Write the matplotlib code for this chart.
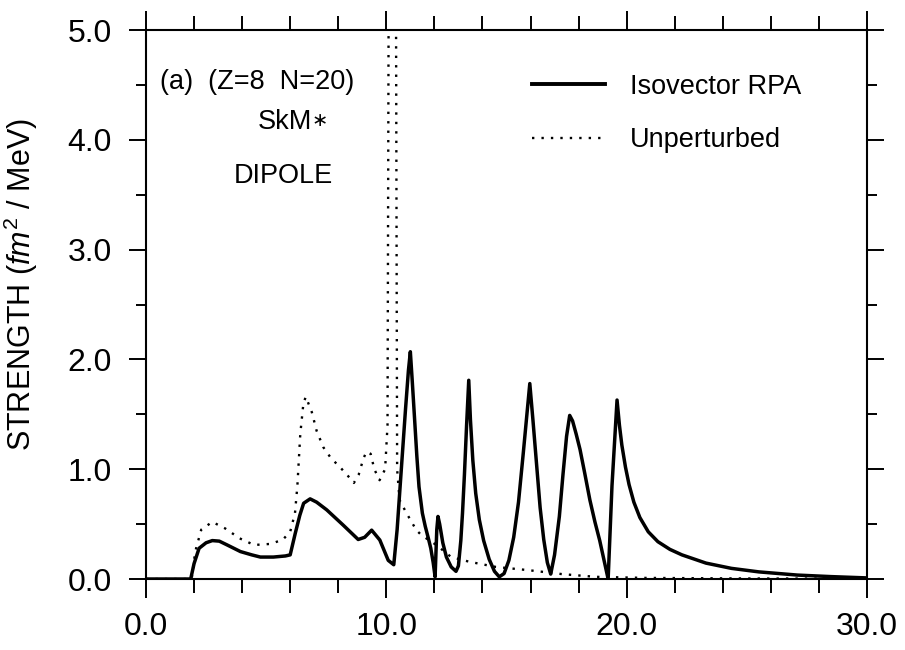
import matplotlib
matplotlib.use("Agg")
import matplotlib.pyplot as plt
from matplotlib.ticker import MultipleLocator, FormatStrFormatter
from matplotlib.lines import Line2D

plt.rcParams['font.family'] = ['Liberation Sans', 'DejaVu Sans']
plt.rcParams['mathtext.fontset'] = 'custom'
plt.rcParams['mathtext.rm'] = 'Liberation Sans'
plt.rcParams['mathtext.it'] = 'Liberation Sans:italic'

# Isovector RPA strength (solid)
x_rpa = [0.0, 1.86, 2.0, 2.21, 2.5, 2.76, 3.05, 3.38, 3.93, 4.4, 4.76, 5.3, 5.8, 6.0,
         6.21, 6.4, 6.56, 6.83, 7.1, 7.52, 8.21, 8.83, 9.1, 9.39, 9.73, 10.08, 10.31,
         10.45, 10.64, 10.8, 10.92, 11.0, 11.08, 11.17, 11.27, 11.36, 11.5, 11.62, 11.75,
         11.85, 11.95, 12.03, 12.1, 12.15, 12.22, 12.35, 12.5, 12.7, 12.9,
         13.0, 13.1, 13.17, 13.25, 13.34, 13.43, 13.5, 13.6, 13.72, 13.87, 14.05, 14.28,
         14.5, 14.7, 14.9, 15.1, 15.3, 15.5, 15.7, 15.85, 15.97, 16.1, 16.25, 16.4, 16.55,
         16.7, 16.84, 17.0, 17.2, 17.35, 17.5, 17.63, 17.75, 17.9, 18.06, 18.25, 18.47,
         18.68, 18.88, 19.05, 19.23, 19.39, 19.6, 19.7, 19.8, 19.95, 20.1, 20.3, 20.55,
         20.9, 21.3, 21.8, 22.3, 23.3, 24.36, 25.5, 27.1, 28.5, 30.0]
y_rpa = [0.0, 0.0, 0.14, 0.28, 0.33, 0.35, 0.345, 0.31, 0.25, 0.22, 0.20, 0.20, 0.21, 0.22,
         0.415, 0.58, 0.69, 0.73, 0.70, 0.63, 0.49, 0.36, 0.38, 0.445, 0.355, 0.17, 0.13,
         0.45, 1.05, 1.55, 1.9, 2.07, 1.8, 1.48, 1.12, 0.84, 0.6, 0.48, 0.37,
         0.28, 0.15, 0.02, 0.45, 0.57, 0.5, 0.33, 0.2, 0.11, 0.07,
         0.12, 0.35, 0.6, 0.95, 1.4, 1.81, 1.45, 1.08, 0.78, 0.54, 0.35, 0.18,
         0.07, 0.02, 0.05, 0.17, 0.38, 0.7, 1.15, 1.5, 1.78, 1.45, 1.05, 0.65, 0.36,
         0.15, 0.045, 0.22, 0.57, 0.95, 1.3, 1.49, 1.44, 1.32, 1.18, 0.97, 0.72,
         0.52, 0.35, 0.18, 0.0, 0.85, 1.63, 1.4, 1.22, 1.02, 0.86, 0.7, 0.56,
         0.43, 0.34, 0.27, 0.22, 0.145, 0.097, 0.065, 0.036, 0.022, 0.01]

# Unperturbed strength (dotted)
x_unp = [0.0, 1.9, 2.05, 2.3, 2.76, 3.3, 3.9, 4.5, 5.2, 5.7, 6.0, 6.2, 6.3, 6.42, 6.55,
         6.65, 6.9, 7.1, 7.38, 7.7, 8.07, 8.4, 8.65, 8.85, 9.05, 9.18, 9.35, 9.5, 9.72,
         9.95, 10.05, 10.1, 10.25, 10.4, 10.45, 10.55, 10.84, 11.25, 11.46, 12.08, 12.7,
         13.46, 14.56, 15.94, 17.3, 18.7, 20.8, 25.0, 30.0]
y_unp = [0.0, 0.0, 0.25, 0.45, 0.52, 0.46, 0.37, 0.31, 0.32, 0.36, 0.43, 0.6, 0.85, 1.32, 1.60,
         1.66, 1.52, 1.35, 1.20, 1.10, 1.02, 0.94, 0.875, 0.95, 1.10, 1.16, 1.14, 1.0, 0.90,
         1.0, 1.4, 5.5, 8.0, 5.5, 1.0, 0.72, 0.6, 0.445, 0.40, 0.31, 0.20,
         0.157, 0.11, 0.08, 0.045, 0.02, 0.01, 0.005, 0.003]

x_ticks = [0.0, 10.0, 20.0, 30.0]
y_ticks = [0.0, 1.0, 2.0, 3.0, 4.0, 5.0]
series_labels = ["Isovector RPA", "Unperturbed"]

fig = plt.figure(figsize=(9.05, 6.5), dpi=100)
ax = fig.add_axes([0.1613, 0.1092, 0.958 - 0.1613, 0.9538 - 0.1092])

dot_style = (0, (1, 3))
ax.plot(x_rpa, y_rpa, color='black', lw=2.5, solid_joinstyle='round')
ax.plot(x_unp, y_unp, color='black', lw=1.7, linestyle=dot_style)

ax.set_xlim(0, 30)
ax.set_ylim(0, 5)
ax.set_xticks(x_ticks)
ax.set_yticks(y_ticks)
ax.xaxis.set_minor_locator(MultipleLocator(2))
ax.yaxis.set_minor_locator(MultipleLocator(0.5))
ax.xaxis.set_major_formatter(FormatStrFormatter('%.1f'))
ax.yaxis.set_major_formatter(FormatStrFormatter('%.1f'))

for sp in ax.spines.values():
    sp.set_linewidth(1.5)

ax.tick_params(axis='both', which='both', direction='out', top=True, right=True,
               width=1.4, labelsize=23)
ax.tick_params(axis='x', which='major', length=13.5, pad=10)
ax.tick_params(axis='x', which='minor', length=10)
ax.tick_params(axis='y', which='major', length=12.5, pad=12)
ax.tick_params(axis='y', which='minor', length=7.5)

ax.set_ylabel(r'STRENGTH ($\mathit{fm}^{\mathrm{2}}$ / MeV)', fontsize=22)
ax.yaxis.set_label_coords(-0.147, 0.537)

ax.text(0.0194, 0.905, '(a)  (Z=8  N=20)', transform=ax.transAxes, fontsize=19.5,
        ha='left', va='center')
skm = ax.text(0.230, 0.832, 'SkM', transform=ax.transAxes, fontsize=19.5,
              ha='right', va='center')
ax.annotate('\u2217', xy=(1.0, 0.55), xycoords=skm, fontsize=14,
            ha='left', va='center', family=['DejaVu Sans'])
ax.text(0.190, 0.735, 'DIPOLE', transform=ax.transAxes, fontsize=19.5,
        ha='center', va='center')

handles = [Line2D([], [], color='black', lw=2.8),
           Line2D([], [], color='black', lw=1.7, linestyle=dot_style)]
ax.legend(handles, series_labels, loc='upper left', bbox_to_anchor=(0.535, 0.92),
          frameon=False, fontsize=19.5, handlelength=2.7, handletextpad=0.93,
          labelspacing=1.0, borderpad=0, borderaxespad=0)

fig.savefig('out.png', dpi=100)
